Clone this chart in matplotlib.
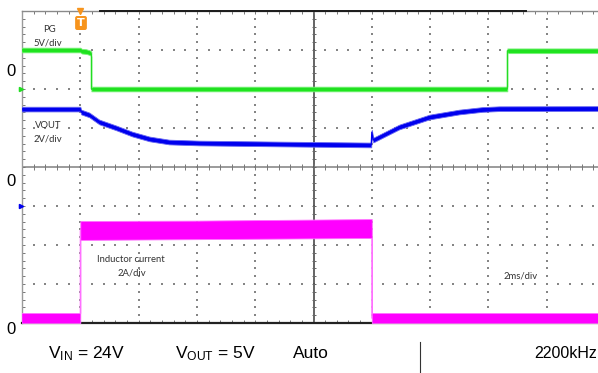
import numpy as np
import matplotlib
matplotlib.use("Agg")
import matplotlib.pyplot as plt

# scope capture: time in ms, traces in physical units
# PG (5V/div, zero at +2 div)
pg_t = [-2.02, 0.0, 0.05, 0.2, 0.33, 0.38, 0.38, 14.65, 14.65, 18.2]
pg_v = [5.0, 5.0, 4.85, 4.8, 4.65, 4.5, 0.0, 0.0, 4.9, 4.9]

# VOUT (2V/div, zero at -1 div)
vout_t = [-2.02, 0.0, 0.03, 0.31, 0.65, 1.24, 1.78, 2.37, 3.05, 4.08, 6.83,
          9.98, 10.0, 10.05, 10.94, 11.97, 13.0, 13.79, 14.37, 18.2]
vout_v = [4.97, 4.97, 4.82, 4.67, 4.31, 4.0, 3.69, 3.44, 3.28, 3.23, 3.18,
          3.13, 3.79, 3.38, 4.05, 4.56, 4.82, 4.95, 4.99, 5.0]

# Inductor current (2A/div, zero at -4 div), min/max of the switching band
il_t = [-2.02, 0.0, 0.0, 4.0, 10.0, 10.0, 18.2]
il_lo = [0.0, 0.0, 4.26, 4.3, 4.36, 0.0, 0.0]
il_hi = [0.51, 0.51, 5.23, 5.25, 5.33, 0.51, 0.51]

W, H = 598, 373
fig = plt.figure(figsize=(W / 100, H / 100), dpi=100)
# plot box: x 22..605 px, y 11..323 px (right edge runs off the picture)
ax = fig.add_axes([22 / W, (H - 323) / H, 583 / W, 312 / H])
ax.set_xlim(-2, 18)
ax.set_ylim(-4, 4)

def fpx(x, y):
    return x / W, 1 - y / H

# dotted graticule
grid_col = "#858585"
xs = np.arange(-2, 18.01, 0.4)
ys = np.arange(-4, 4.01, 0.2)
for t in [0, 2, 4, 6, 10, 12, 14, 16]:
    ax.scatter(np.full(ys.size, t), ys, s=0.9, marker="s", color=grid_col, lw=0, zorder=1)
for y in [-3, -2, -1, 1, 2, 3]:
    ax.scatter(xs, np.full(xs.size, y), s=0.9, marker="s", color=grid_col, lw=0, zorder=1)

# centre axes with minor ticks
ax.axhline(0, color="#8a8a8a", lw=1.2, zorder=1)
ax.axvline(8, color="#4a4a4a", lw=1.2, zorder=1)
ax.scatter(xs, np.zeros(xs.size), marker="|", s=14, color="#777", lw=0.7, zorder=1)
ax.scatter(np.full(ys.size, 8), ys, marker="_", s=12, color="#666", lw=0.7, zorder=1)

# borders
ax.spines["right"].set_visible(False)
ax.spines["left"].set_color("#9a9a9a")
ax.spines["left"].set_linewidth(1.0)
ax.spines["top"].set_color("#8a8a8a")
ax.spines["top"].set_linewidth(1.0)
ax.spines["bottom"].set_color("#222222")
ax.spines["bottom"].set_linewidth(1.6)
ax.set_xticks(np.arange(-2, 18.01, 2))
ax.set_xticks(xs, minor=True)
ax.set_yticks(np.arange(-4, 4.01, 1))
ax.set_yticks(ys, minor=True)
ax.tick_params(which="both", direction="in", length=2.5, width=0.7, color="#777",
               top=True, bottom=True, left=True, right=False,
               labelbottom=False, labelleft=False)
ax.plot([0.68, 15.3], [4, 4], color="#1a1a1a", lw=1.4, clip_on=False, zorder=3)

# traces
pg_d = 2 + np.array(pg_v) / 5
vout_d = -1 + np.array(vout_v) / 2
il_lo_d = -4 + np.array(il_lo) / 2
il_hi_d = -4 + np.array(il_hi) / 2
hw = 0.06

ax.fill_between(pg_t, pg_d - hw, pg_d + hw, color="#1ee61e", lw=0.6, ec="#7cf07c", zorder=4)
ax.plot(pg_t, pg_d, color="#22dd22", lw=0.9, zorder=4)

ax.fill_between(vout_t, vout_d - hw, vout_d + hw, color="#0000ee", lw=0.6, ec="#6a6af2", zorder=4)
ax.plot(vout_t, vout_d, color="#0000ee", lw=0.9, zorder=4)

ax.plot(il_t, (il_lo_d + il_hi_d) / 2, color="#ff90ff", lw=1.0, zorder=4)
ax.fill_between(il_t, il_lo_d, il_hi_d, color="#ff00ff", lw=0.6, ec="#ff70ff", zorder=4)

# channel ground markers
ax.plot(-2.02, 2, marker=">", color="#22dd22", ms=3, clip_on=False, zorder=5)
ax.plot(-2.02, -1, marker=">", color="#0000ee", ms=3, clip_on=False, zorder=5)

# trigger marker
ax.plot(0, 4, marker="v", color="#f7941d", ms=5, clip_on=False, zorder=5)
fig.text(*fpx(81, 23), "T", color="white", fontsize=8, fontweight="bold",
         ha="center", va="center",
         bbox=dict(boxstyle="round,pad=0.18", fc="#f7941d", ec="none"))

# labels
sans = ["Liberation Sans", "DejaVu Sans"]
for y in [72, 182, 330]:
    fig.text(*fpx(11, y), "0", fontsize=12, family=sans, ha="center", va="center")

small = dict(fontsize=6.8, family=["Lato", "DejaVu Sans"], color="#333333",
             ha="center", va="center")
fig.text(*fpx(49, 30), "PG", **small)
fig.text(*fpx(48, 43), "5V/div", **small)
fig.text(*fpx(48, 126), "VOUT", **small)
fig.text(*fpx(48, 139), "2V/div", **small)
fig.text(*fpx(131, 260), "Inductor current", **small)
fig.text(*fpx(132, 273), "2A/div", **small)
fig.text(*fpx(521, 276), "2ms/div", **small)

bottom = dict(fontsize=12.5, family=sans, va="center", ha="left")
fig.text(*fpx(48, 354), r"V$\mathregular{_{IN}}$ = 24V", **bottom)
fig.text(*fpx(175, 354), r"V$\mathregular{_{OUT}}$ = 5V", **bottom)
fig.text(*fpx(293, 354), "Auto", **bottom)
fig.text(*fpx(597, 354), "2200kHz", fontsize=11.5, family=sans, va="center", ha="right")
fig.add_artist(plt.Line2D([420 / W, 420 / W], [0, 1 - 342 / H], color="#333", lw=0.8))

fig.savefig("out.png", dpi=100)
